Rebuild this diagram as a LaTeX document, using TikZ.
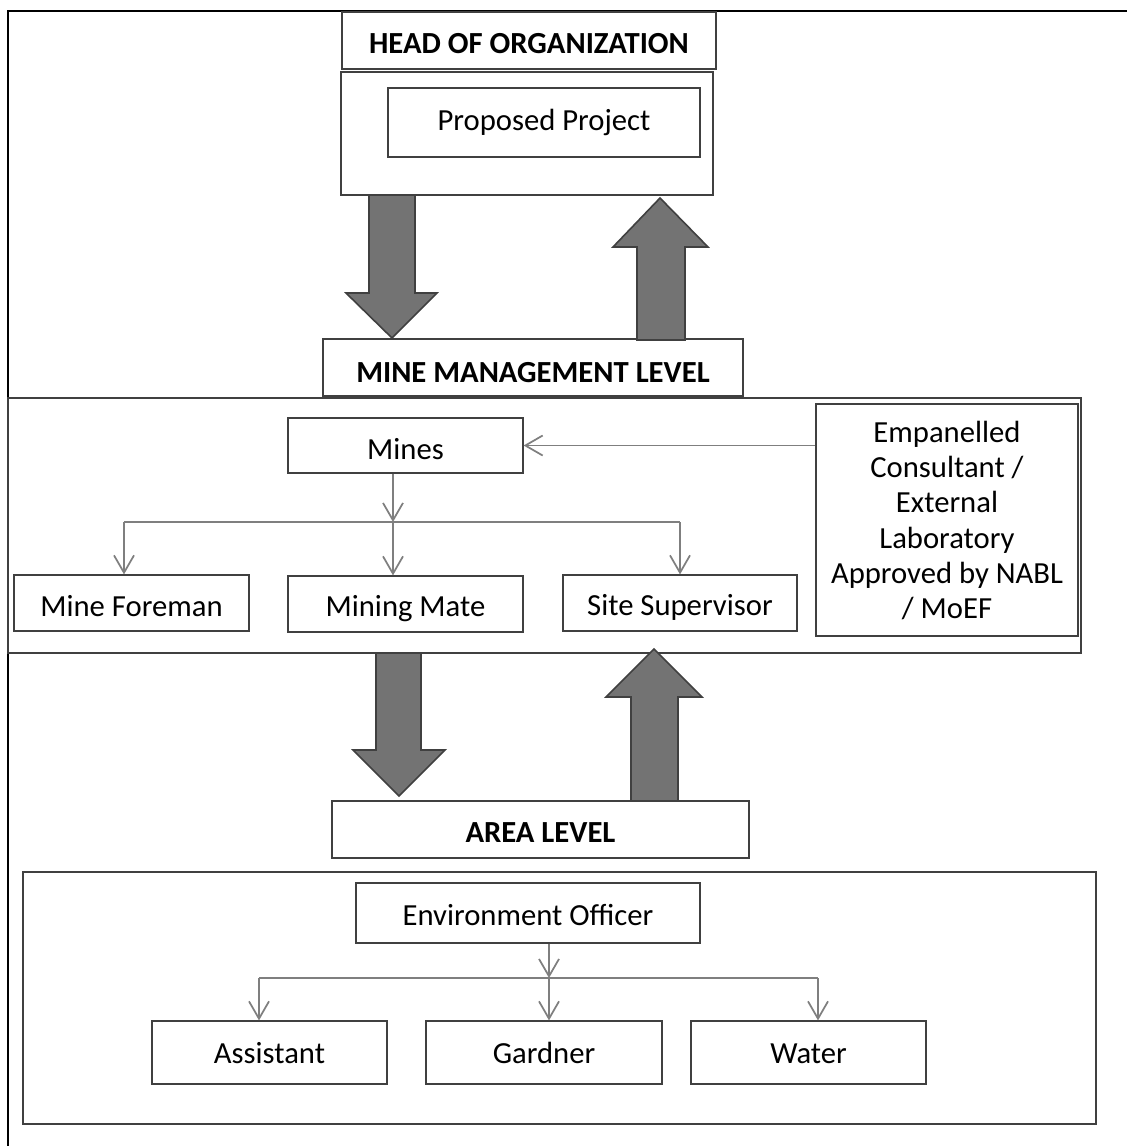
\documentclass[tikz,border=0pt]{standalone}
\usepackage{fontspec}
\setmainfont{Carlito}
\usetikzlibrary{arrows.meta}
\definecolor{framegray}{HTML}{404040}
\definecolor{blockfill}{HTML}{737373}
\definecolor{linkgray}{HTML}{7F7F7F}
\begin{document}
\begin{tikzpicture}[x=0.75pt,y=-0.75pt,
  every node/.style={font=\fontsize{23}{27.5}\selectfont},
  % a rectangle given by its corners (x1,y1) and (x2,y2)
  span/.style n args={4}{rectangle, inner sep=0pt,
    minimum width={(#3-#1)*0.75pt}, minimum height={(#4-#2)*0.75pt},
    at={({(#1+#3)/2},{(#2+#4)/2})}},
  % baseline placed #1 units below the box centre
  base/.style={text depth=3pt, text height={3pt+1.5pt*#1}},
  box/.style={draw=framegray, line width=0.9pt, base=12},
  panel/.style={draw=framegray, line width=1.6pt},
  title/.style={font=\fontsize{23}{27.5}\selectfont\bfseries},
  conn/.style={draw=linkgray, line width=1.3pt,
    -{Straight Barb[length=13pt,width=15pt,line width=1.3pt]}},
  bar/.style={draw=linkgray, line width=1pt},
  block/.style={fill=blockfill, draw=framegray, line width=1.2pt, line join=miter}
]
\useasboundingbox (0,0) rectangle (1127,1146);

% outer frame
\draw[black, line width=1.5pt] (7.5,1146) -- (7.5,11) -- (1127,11);

% top level
\node[box, title, base=12.5, span={342}{12}{716}{69}] (head) {HEAD OF ORGANIZATION};
\node[panel, line width=1.8pt, span={341}{72}{713}{195}] (propframe) {};
\node[box, base=8, span={388}{88}{700}{157}] (proposed) {Proposed Project};

% mine management level
\node[box, title, base=15, span={323}{339}{743}{396}] (mml) {MINE MANAGEMENT LEVEL};
\node[panel, line width=1.5pt, span={8}{398}{1081}{653}] (minepanel) {};
\node[box, base=13.5, span={288}{418}{523}{473}] (mines) {Mines};
\node[box, base=13.5, span={14}{575}{249}{631}] (foreman) {Mine Foreman};
\node[box, span={288}{576}{523}{632}] (mate) {Mining Mate};
\node[box, base=12.5, span={563}{575}{797}{631}] (site) {Site Supervisor};
\node[draw=framegray, line width=0.9pt, align=center, text depth=-7pt,
  font=\fontsize{23}{26.5}\selectfont, span={816}{404}{1078}{636}] (consult)
  {Empanelled\\Consultant /\\External\\Laboratory\\Approved by NABL\\/ MoEF};

% area level
\node[box, title, base=12.5, span={332}{801}{749}{858}] (area) {AREA LEVEL};
\node[panel, line width=1.5pt, span={23}{872}{1096}{1124}] (areapanel) {};
\node[box, span={356}{883}{700}{943}] (envoff) {Environment Officer};
\node[box, base=10.5, span={152}{1021}{387}{1084}] (assistant) {Assistant};
\node[box, base=11, span={426}{1021}{662}{1084}] (gardner) {Gardner};
\node[box, base=10.5, span={691}{1021}{926}{1084}] (water) {Water};

% branching points
\coordinate (mjoin) at (393,522);
\coordinate (mleft) at (124,522);
\coordinate (mright) at (680,522);
\coordinate (ejoin) at (549,978);
\coordinate (eleft) at (259,978);
\coordinate (eright) at (818,978);

% connectors, mine level
\draw[conn] (consult.west |- mines.east) -- (mines.east);
\draw[conn] (mjoin |- mines.south) -- (mjoin);
\draw[bar] (mleft) -- (mright);
\draw[conn] (mleft) -- (mleft |- foreman.north);
\draw[conn] (mjoin) -- (mjoin |- mate.north);
\draw[conn] (mright) -- (mright |- site.north);

% connectors, area level
\draw[conn] (ejoin |- envoff.south) -- (ejoin);
\draw[bar] (eleft) -- (eright);
\draw[conn] (eleft) -- (eleft |- assistant.north);
\draw[conn] (ejoin) -- (ejoin |- gardner.north);
\draw[conn] (eright) -- (eright |- water.north);

% block arrows between levels
\draw[block] (369,195) -- (415,195) -- (415,293) -- (437,293) -- (392,338)
  -- (346,293) -- (369,293) -- cycle;
\draw[block] (637,340) -- (685,340) -- (685,247) -- (708,247) -- (660,198)
  -- (613,247) -- (637,247) -- cycle;
\draw[block] (376,653) -- (421,653) -- (421,750) -- (445,750) -- (399,796)
  -- (353,750) -- (376,750) -- cycle;
\draw[block] (631,801) -- (678,801) -- (678,697) -- (702,697) -- (654,649)
  -- (606,697) -- (631,697) -- cycle;
\end{tikzpicture}
\end{document}
